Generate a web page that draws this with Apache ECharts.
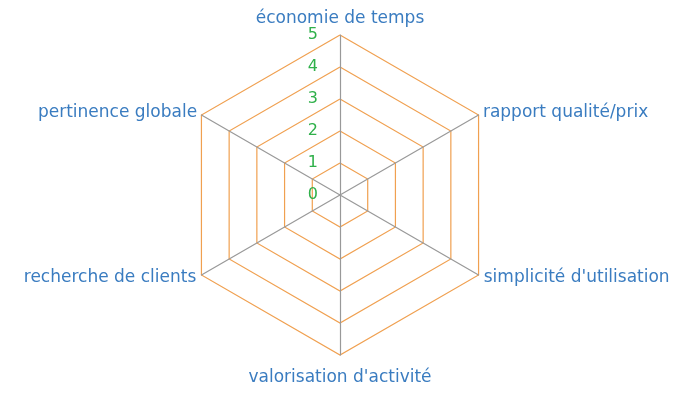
<!DOCTYPE html>
<html lang="fr">
<head>
  <meta charset="UTF-8">
  <title>radar</title>
  <style>
    html, body { margin: 0; padding: 0; background: #fff; }
    #chart { width: 681px; height: 394px; }
  </style>
</head>
<body>
<div id="chart"></div>
<script src="https://cdn.jsdelivr.net/npm/echarts@6/dist/echarts.min.js"></script>
<script>
  const indicatorNames = ['économie de temps', 'pertinence globale', 'recherche de clients',
    'valorisation d\'activité', 'simplicité d\'utilisation', 'rapport qualité/prix'];
  const scaleMin = 0;
  const scaleMax = 5;
  const tickLabels = ['0', '1', '2', '3', '4', '5'];

  const chart = echarts.init(document.getElementById('chart'));

  // gap between the hexagon corner and each name
  const nameGaps = [8, 5, 6, 14, 6, 5];

  const indicator = indicatorNames.map((name, i) => {
    let item = {name: name, min: scaleMin, max: scaleMax, nameGap: nameGaps[i]};
    if (i === 0) {
      item.axisLabel = {
        show: true,
        color: '#2fb04a',
        fontSize: 16,
        fontFamily: 'DejaVu Sans',
        margin: 22,
        padding: [3, 0, 0, 0],
        formatter: (v) => tickLabels[v] || ''
      };
    }
    return item;
  });

  chart.setOption({
    backgroundColor: '#fff',
    radar: {
      center: [340, 195],
      radius: 160,
      shape: 'polygon',
      startAngle: 90,
      splitNumber: 5,
      indicator: indicator,
      axisName: {
        color: '#3a7cc0',
        fontSize: 17,
        fontFamily: 'DejaVu Sans'
      },
      nameGap: 5,
      axisLine: {lineStyle: {color: '#999', width: 1.2}},
      splitLine: {lineStyle: {color: '#f0a050', width: 1.2}},
      splitArea: {show: false},
      axisLabel: {show: false}
    },
    series: [{
      type: 'radar',
      data: []
    }]
  });
</script>
</body>
</html>
